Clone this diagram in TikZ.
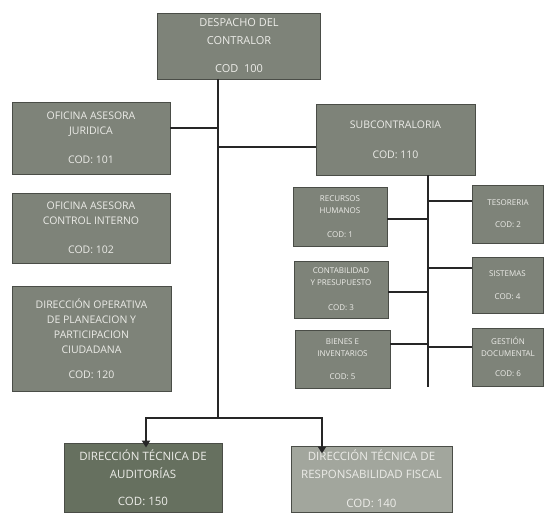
\documentclass[tikz,border=0pt]{standalone}
\usepackage{fontspec}
\setmainfont{Open Sans}
\usetikzlibrary{arrows.meta}
\definecolor{boxg}{HTML}{7E8379}
\definecolor{boxdark}{HTML}{66705F}
\definecolor{boxlight}{HTML}{A2A69D}
\definecolor{boxline}{HTML}{4A4D47}
\definecolor{boxtxt}{HTML}{ECECE8}
\definecolor{conn}{HTML}{262626}
\begin{document}
\begin{tikzpicture}[x=1pt,y=-1pt,
  box/.style={draw=boxline, line width=0.9pt, fill=boxg, text=boxtxt, align=center, inner sep=0pt, anchor=center},
  bigfont/.style={font=\fontsize{10.5}{15}\selectfont},
  topfont/.style={font=\fontsize{11}{18}\selectfont},
  botfont/.style={font=\fontsize{11.5}{18}\selectfont},
  smallfont/.style={font=\fontsize{8}{12}\selectfont},
  link/.style={draw=conn, line width=1.8pt},
  arr/.style={draw=conn, line width=1.8pt, -{Triangle[length=7pt,width=8pt]}}]
\useasboundingbox (0,0) rectangle (544,513);
\fill[white] (0,0) rectangle (544,513);

% main boxes
\node[box,topfont,minimum width=163pt,minimum height=66pt] (desp) at (239,46) {DESPACHO DEL\\CONTRALOR\\[10pt]COD\ \ 100};
\node[box,bigfont,minimum width=158pt,minimum height=72pt] (jur) at (91,138) {OFICINA ASESORA\\JURIDICA\\[14pt]COD: 101};
\node[box,bigfont,minimum width=159pt,minimum height=71pt] (sub) at (395.5,139.5) {SUBCONTRALORIA\\[15pt]COD: 110};
\node[box,bigfont,minimum width=158pt,minimum height=70pt] (ci) at (91,228) {OFICINA ASESORA\\CONTROL INTERNO\\[14pt]COD: 102};
\node[box,bigfont,minimum width=159pt,minimum height=105pt] (dop) at (91.5,338.5) {DIRECCIÓN OPERATIVA\\DE PLANEACION Y\\PARTICIPACION\\CIUDADANA\\[10pt]COD: 120};

% sub boxes
\node[box,smallfont,minimum width=94pt,minimum height=59pt] (rh) at (340,216.5) {RECURSOS\\HUMANOS\\[12pt]COD: 1};
\node[box,smallfont,minimum width=94pt,minimum height=57pt] (cont) at (341,289.5) {CONTABILIDAD\\Y PRESUPUESTO\\[13pt]COD: 3};
\node[box,smallfont,minimum width=95pt,minimum height=58pt] (bie) at (342.5,359) {BIENES E\\INVENTARIOS\\[11pt]COD: 5};
\node[box,smallfont,minimum width=71pt,minimum height=58pt] (tes) at (508,214) {TESORERIA\\[10pt]COD: 2};
\node[box,smallfont,minimum width=71pt,minimum height=56pt] (sis) at (507.5,285) {SISTEMAS\\[11pt]COD: 4};
\node[box,smallfont,minimum width=71pt,minimum height=58pt] (ges) at (508,357) {GESTIÓN\\DOCUMENTAL\\[8pt]COD: 6};

% bottom boxes
\node[box,botfont,fill=boxdark,minimum width=158pt,minimum height=69pt] (aud) at (143,477.5) {DIRECCIÓN TÉCNICA DE\\AUDITORÍAS\\[9pt]COD: 150};
\node[box,botfont,fill=boxlight,minimum width=161pt,minimum height=66pt] (rf) at (371.5,479) {DIRECCIÓN TÉCNICA DE\\RESPONSABILIDAD FISCAL\\[11pt]COD: 140};

% main spine
\coordinate (spt) at (218,79);
\coordinate (spb) at (218,418);
\coordinate (busl) at (146,418);
\coordinate (busr) at (322,418);
\draw[link] (spt) -- (spb);
\draw[link] ([yshift=10pt]jur.east) -- ([yshift=10pt]jur.east -| spt);
\draw[link] ([yshift=-7.5pt]sub.west -| spt) -- ([yshift=-7.5pt]sub.west);
\draw[link, line cap=rect] (busl) -- (busr);
\draw[arr] (busl) -- ([yshift=-5pt]aud.north -| busl);
\draw[arr] (busr) -- ([yshift=-8pt]rf.north -| busr);

% sub spine
\coordinate (sst) at (428,175);
\coordinate (ssb) at (428,387);
\draw[link] (sst) -- (ssb);
\draw[link] ([yshift=-2.5pt]rh.east) -- ([yshift=-2.5pt]rh.east -| sst);
\draw[link] ([yshift=13pt]tes.west -| sst) -- ([yshift=13pt]tes.west);
\draw[link] ([yshift=-2.5pt]cont.east) -- ([yshift=-2.5pt]cont.east -| sst);
\draw[link] ([yshift=17pt]sis.west -| sst) -- ([yshift=17pt]sis.west);
\draw[link] ([yshift=15pt]bie.east) -- ([yshift=15pt]bie.east -| sst);
\draw[link] ([yshift=10pt]ges.west -| sst) -- ([yshift=10pt]ges.west);
\end{tikzpicture}
\end{document}
